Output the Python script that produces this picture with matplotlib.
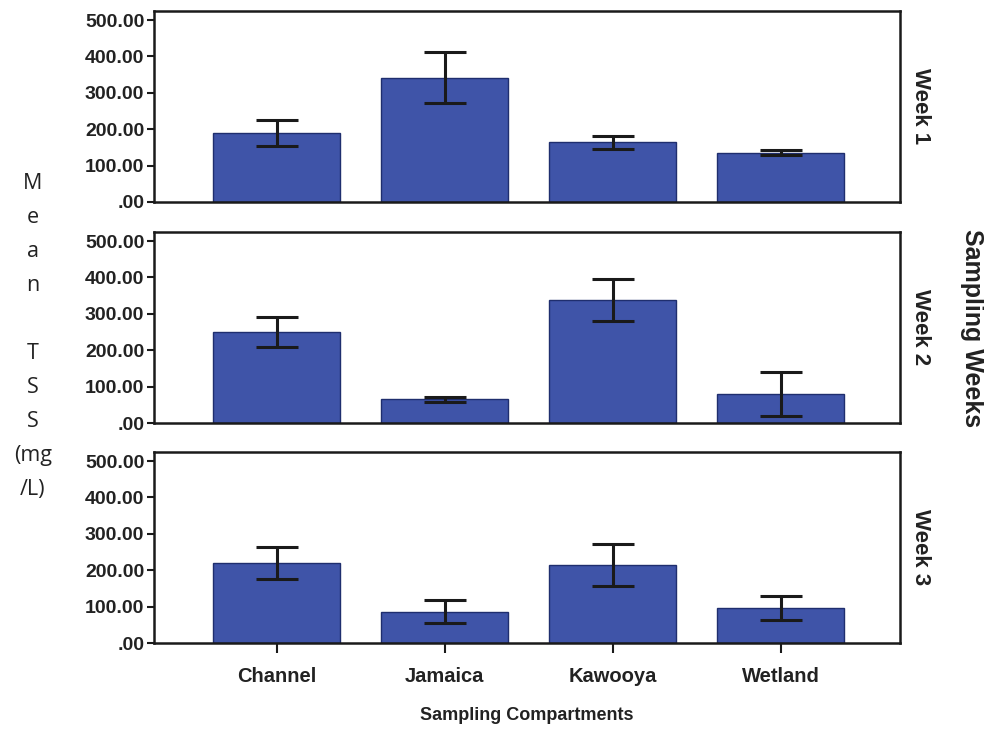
import numpy as np
import matplotlib
matplotlib.use("Agg")
import matplotlib.pyplot as plt

# data
categories = ['Channel', 'Jamaica', 'Kawooya', 'Wetland']
weeks = ['Week 1', 'Week 2', 'Week 3']
week1_mean = [190, 342, 164, 136]
week1_err = [36, 69, 17, 7]
week2_mean = [250, 65, 338, 80]
week2_err = [40, 6, 57, 60]
week3_mean = [220, 86, 214, 96]
week3_err = [45, 32, 58, 32]
yticks = [0, 100, 200, 300, 400, 500]
ytick_labels = ['.00', '100.00', '200.00', '300.00', '400.00', '500.00']

means = [week1_mean, week2_mean, week3_mean]
errs = [week1_err, week2_err, week3_err]

plt.rcParams['font.family'] = ['Liberation Sans', 'DejaVu Sans']

bar_color = '#3F54A8'
edge_color = '#1F2E6E'
dark = '#1A1A1A'
txt = '#222222'

fig = plt.figure(figsize=(9.84, 7.29), dpi=100)

left = 154 / 984
width = 746 / 984
height = 191 / 729
bottoms = [1 - 202 / 729, 1 - 423 / 729, 1 - 643 / 729]

x = np.arange(len(categories))
for i in range(3):
    ax = fig.add_axes([left, bottoms[i], width, height])
    ax.bar(x, means[i], width=0.756, color=bar_color, edgecolor=edge_color,
           linewidth=1.0, zorder=2)
    ax.errorbar(x, means[i], yerr=errs[i], fmt='none', ecolor=dark,
                elinewidth=2.2, capsize=15, capthick=2.2, zorder=3)
    ax.set_xlim(-0.73, 3.71)
    ax.set_ylim(0, 525)
    ax.set_yticks(yticks)
    ax.set_yticklabels(ytick_labels, fontsize=14, fontweight='bold', color=txt)
    ax.tick_params(axis='y', direction='out', length=5, width=1.5, color=dark, pad=2)
    for s in ax.spines.values():
        s.set_linewidth(1.8)
        s.set_color(dark)
    ax.text(1.027, 0.5, weeks[i], transform=ax.transAxes, rotation=-90,
            ha='center', va='center', fontsize=16, fontweight='bold', color=txt)
    if i < 2:
        ax.set_xticks([])
    else:
        ax.set_xticks(x)
        ax.set_xticklabels(categories, fontsize=14.5, fontweight='bold', color=txt)
        ax.tick_params(axis='x', direction='out', length=7, width=1.5, color=dark, pad=10)

fig.text(left + width / 2, 1 - 716 / 729, 'Sampling Compartments',
         ha='center', va='center', fontsize=13, fontweight='bold', color=txt)
fig.text(972 / 984, 1 - 328 / 729, 'Sampling Weeks', rotation=-90,
         ha='center', va='center', fontsize=18, fontweight='bold', color=txt)

ylabel_lines = ['M', 'e', 'a', 'n', '', 'T', 'S', 'S', '(mg', '/L)']
for k, line in enumerate(ylabel_lines):
    ypix = 183 + k * 34.1
    fig.text(33 / 984, 1 - ypix / 729, line, ha='center', va='center',
             fontsize=15.5, family=['Open Sans', 'DejaVu Sans'], color=txt)

plt.savefig('out.png', dpi=100)
